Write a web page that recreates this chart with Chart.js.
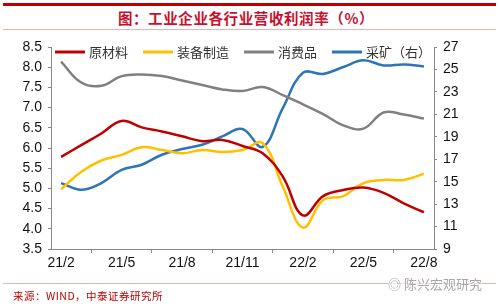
<!DOCTYPE html>
<html>
<head>
<meta charset="utf-8">
<script src="https://cdn.jsdelivr.net/npm/chart.js@4.4.0/dist/chart.umd.min.js"></script>
<style>
  body { margin: 0; background: #fff; }
  #wrap { position: relative; width: 500px; height: 304px; overflow: hidden; }
  #topline { position: absolute; left: 3px; top: 3px; width: 493px; height: 3px; background: #c00000; }
  #title { position: absolute; left: 0; top: 7px; width: 492px; text-align: center; font-family: "Noto Sans CJK SC", sans-serif; font-weight: bold; font-size: 14.5px; letter-spacing: 0.6px; color: #c8102e; }
  #subline { position: absolute; left: 3px; top: 29px; width: 493px; height: 1px; background: #e6b3b3; }
  #botline { position: absolute; left: 3px; top: 283px; width: 493px; height: 1px; background: #e6b3b3; }
  #source { position: absolute; left: 13px; top: 288px; font-family: "Noto Sans CJK SC", sans-serif; font-size: 10.5px; letter-spacing: 0.5px; color: #c00000; }
  #mark { position: absolute; left: 388px; top: 274px; font-family: "Noto Sans CJK SC", sans-serif; font-size: 13px; color: #a8a8a8; background: rgba(255,255,255,0.6); }
  canvas { position: absolute; left: 0; top: 0; }
</style>
</head>
<body>
<div id="wrap">
  <div id="topline"></div>
  <div id="title">图：工业企业各行业营收利润率（%）</div>
  <div id="subline"></div>
  <canvas id="myChart" width="500" height="304"></canvas>
  <div id="botline"></div>
  <div id="source">来源：WIND，中泰证券研究所</div>
  <div id="mark">◎ 陈兴宏观研究</div>
</div>
<script>
// months on the x axis
const months = ['21/2','21/3','21/4','21/5','21/6','21/7','21/8','21/9','21/10','21/11','21/12',
  '22/1','22/2','22/3','22/4','22/5','22/6','22/7','22/8'];

// left axis series (%)
const rawMaterial = [5.78, 6.07, 6.36, 6.67, 6.51, 6.41, 6.29, 6.17, 6.20, 6.05, 5.87, 5.29, 4.33, 4.81, 4.96, 5.02, 4.89, 4.63, 4.41];
const equipment = [4.98, 5.41, 5.69, 5.83, 6.02, 5.95, 5.87, 5.95, 5.90, 5.95, 6.12, 5.04, 4.03, 4.71, 4.81, 5.13, 5.21, 5.21, 5.36];
const consumer = [8.14, 7.62, 7.54, 7.78, 7.82, 7.78, 7.67, 7.56, 7.45, 7.41, 7.51, 7.31, 7.08, 6.84, 6.56, 6.48, 6.88, 6.83, 6.73];
// right axis series (%)
const mining = [14.87, 14.28, 14.88, 16.06, 16.51, 17.40, 17.91, 18.29, 19.03, 19.69, 18.10, 21.56, 24.70, 24.60, 25.22, 25.81, 25.36, 25.45, 25.27];

const seriesNames = ['原材料', '装备制造', '消费品', '采矿（右）'];
const leftTicks = [3.5, 8.5, 0.5];   // min, max, step
const rightTicks = [9, 27, 2];

const tickFont = { family: 'Liberation Sans, Arial, sans-serif', size: 14 };

// legend drawn inside the plot area, like the original
const innerLegend = {
  id: 'innerLegend',
  afterDraw(chart) {
    const ctx = chart.ctx;
    ctx.save();
    ctx.font = '13px "Noto Sans CJK SC", sans-serif';
    ctx.textBaseline = 'middle';
    let x = 55;
    const y = 52;
    chart.data.datasets.forEach(ds => {
      ctx.strokeStyle = ds.borderColor;
      ctx.lineWidth = 3;
      ctx.beginPath();
      ctx.moveTo(x, y);
      ctx.lineTo(x + 30, y);
      ctx.stroke();
      ctx.fillStyle = '#333';
      ctx.fillText(ds.label, x + 34, y);
      x += 34 + ctx.measureText(ds.label).width + 15;
    });
    ctx.restore();
  }
};

const ctx = document.getElementById('myChart').getContext('2d');

const chart = new Chart(ctx, {
  type: 'line',
  data: {
    labels: months,
    datasets: [
      { label: seriesNames[0], data: rawMaterial, borderColor: '#c00000', yAxisID: 'y' },
      { label: seriesNames[1], data: equipment, borderColor: '#ffc000', yAxisID: 'y' },
      { label: seriesNames[2], data: consumer, borderColor: '#808080', yAxisID: 'y' },
      { label: seriesNames[3], data: mining, borderColor: '#2e75b6', yAxisID: 'y1' }
    ]
  },
  options: {
    responsive: false,
    animation: false,
    layout: { padding: { left: 0, right: 0, top: 47, bottom: 25 } },
    elements: {
      line: { borderWidth: 2.5, tension: 0.4, fill: false },
      point: { radius: 0 }
    },
    plugins: {
      legend: { display: false },
      tooltip: { enabled: false }
    },
    scales: {
      x: {
        offset: true,
        grid: { offset: true, drawOnChartArea: false, tickLength: 4, color: '#888' },
        border: { color: '#888' },
        ticks: {
          autoSkip: false,
          maxRotation: 0,
          color: '#111',
          font: tickFont,
          padding: 2,
          callback: function (v, i) { return i % 3 === 0 ? months[i] : null; }
        },
        afterFit: s => { s.height = 30; }
      },
      y: {
        position: 'left',
        min: leftTicks[0], max: leftTicks[1],
        grid: { drawOnChartArea: false, tickLength: 3, color: '#888' },
        border: { color: '#888' },
        ticks: { stepSize: leftTicks[2], color: '#111', font: tickFont, padding: 6,
          callback: v => v.toFixed(1) },
        afterFit: s => { s.width = 51; }
      },
      y1: {
        position: 'right',
        min: rightTicks[0], max: rightTicks[1],
        grid: { drawOnChartArea: false, tickLength: 3, color: '#888' },
        border: { color: '#888' },
        ticks: { stepSize: rightTicks[2], color: '#111', font: tickFont, padding: 6 },
        afterFit: s => { s.width = 66; }
      }
    }
  },
  plugins: [innerLegend]
});
</script>
</body>
</html>
